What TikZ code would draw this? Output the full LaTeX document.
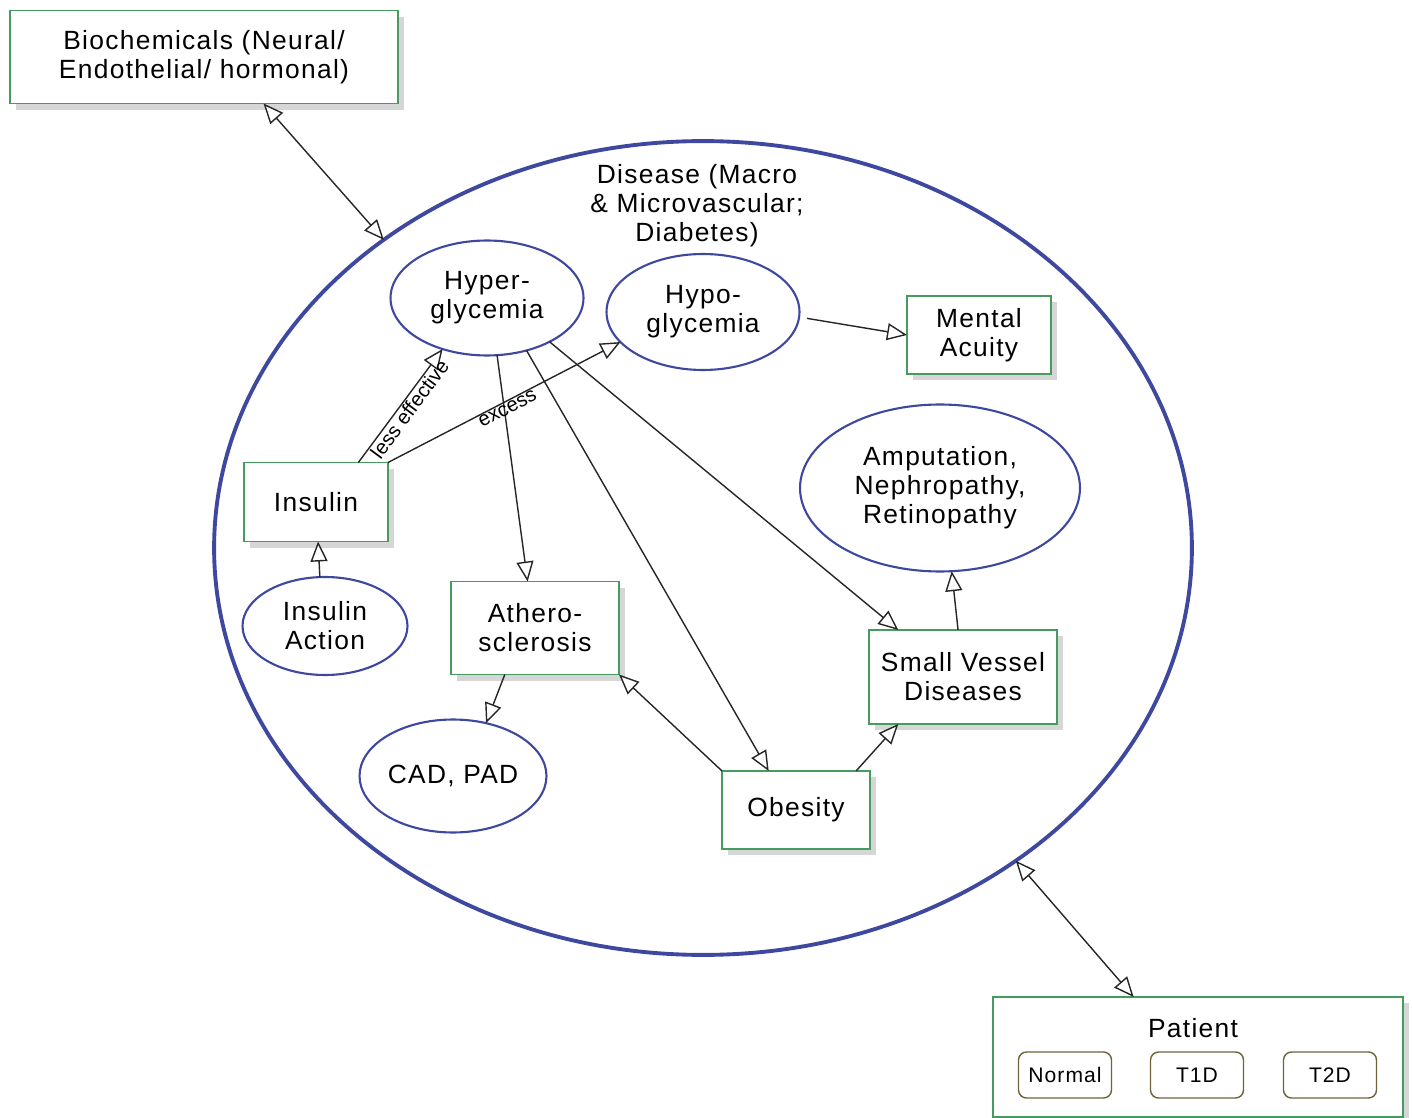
\documentclass[tikz,border=0pt]{standalone}
\usepackage{fontspec}
\setmainfont{Liberation Sans}[LetterSpace=5]
\newfontfamily\linkfont{Liberation Sans}
\usetikzlibrary{arrows.meta,shapes.geometric,shadows}

\definecolor{boxgreen}{RGB}{70,155,95}
\definecolor{ovalblue}{RGB}{62,72,158}
\definecolor{tagline}{RGB}{110,100,60}

\tikzset{
  every node/.style={font=\fontsize{15}{16.5}\selectfont, align=center, inner sep=0pt, outer sep=0pt},
  greenbox/.style={rectangle, draw=boxgreen, line width=1pt, fill=white,
    drop shadow={shadow xshift=3.5pt, shadow yshift=-3.5pt, fill=black!16, opacity=1}},
  blueoval/.style={ellipse, draw=ovalblue, line width=1.2pt, fill=white},
  bigoval/.style={ellipse, draw=ovalblue, line width=2.2pt},
  tagbox/.style={rectangle, rounded corners=0.16cm, draw=tagline, line width=0.8pt,
    font=\fontsize{12}{13}\selectfont, minimum width=1.86cm, minimum height=0.92cm},
  link/.style={draw=black!85, line width=0.8pt,
    -{Triangle[open, length=0.4cm, width=0.34cm, fill=white]}},
  twoway/.style={draw=black!85, line width=0.8pt,
    {Triangle[open, length=0.4cm, width=0.34cm, fill=white]}-{Triangle[open, length=0.4cm, width=0.34cm, fill=white]}},
  edgelabel/.style={font=\linkfont\fontsize{11.5}{12}\selectfont, sloped, below, inner sep=1pt}
}

\begin{document}
\begin{tikzpicture}[x=0.02cm, y=-0.02cm]
  \useasboundingbox (0,0) rectangle (1413,1118);

  % enclosing disease oval and its title
  \node[bigoval, minimum width=19.56cm, minimum height=16.28cm] (disease) at (703,548) {};
  \node (diseaselabel) at (697,206) {Disease (Macro\\ \& Microvascular;\\ Diabetes)};

  % outside boxes
  \node[greenbox, minimum width=7.76cm, minimum height=1.86cm] (bio) at (204,57)
    {Biochemicals (Neural/\\ Endothelial/ hormonal)};
  \node[greenbox, minimum width=8.2cm, minimum height=2.4cm] (patient) at (1198,1057) {};
  \node (patientlabel) at (1193,1028) {Patient};
  \node[tagbox] (normal) at (1065,1075) {Normal};
  \node[tagbox] (tone) at (1197,1075) {T1D};
  \node[tagbox] (ttwo) at (1330,1075) {T2D};

  % inner ovals
  \node[blueoval, minimum width=3.86cm, minimum height=2.3cm] (hyper) at (487,298) {Hyper-\\ glycemia};
  \node[blueoval, minimum width=3.86cm, minimum height=2.32cm] (hypo) at (703,312) {Hypo-\\ glycemia};
  \node[blueoval, minimum width=5.6cm, minimum height=3.34cm] (amput) at (940,488)
    {Amputation,\\ Nephropathy,\\ Retinopathy};
  \node[blueoval, minimum width=3.3cm, minimum height=1.96cm] (iaction) at (325,626) {Insulin\\ Action};
  \node[blueoval, minimum width=3.74cm, minimum height=2.26cm] (cad) at (453,776) {CAD, PAD};

  % inner boxes
  \node[greenbox, minimum width=2.88cm, minimum height=1.56cm] (mental) at (979,335) {Mental\\ Acuity};
  \node[greenbox, minimum width=2.88cm, minimum height=1.58cm] (insulin) at (316,502) {Insulin};
  \node[greenbox, minimum width=3.36cm, minimum height=1.86cm] (athero) at (535,628) {Athero-\\ sclerosis};
  \node[greenbox, minimum width=2.96cm, minimum height=1.56cm] (obesity) at (796,810) {Obesity};
  \node[greenbox, minimum width=3.76cm, minimum height=1.88cm] (svd) at (963,677) {Small Vessel\\ Diseases};

  % connectors
  \draw[twoway] (bio.-38.7) -- (disease.136);
  \draw[twoway] (disease.-45.2) -- (patient.137.3);
  \draw[link] (hyper.-80) -- (athero.99.5);
  \draw[link] (hyper.-53) -- (obesity.125);
  \draw[link] (hyper.-35.5) -- (svd.144);
  \draw[link] (insulin.43.6) -- node[edgelabel, pos=0.52] {less effective} (hyper.-131);
  \draw[link] (insulin.north east) -- node[edgelabel, pos=0.5] {excess} (hypo.-160);
  \draw[link, shorten <=0.16cm] (hypo.-3) -- (mental.west);
  \draw[link] (svd.96) -- (amput.-82);
  \draw[link] (iaction.96) -- (insulin.-87);
  \draw[link] (athero.-123) -- (cad.58);
  \draw[link] (obesity.north west) -- (athero.south east);
  \draw[link] (obesity.33) -- (svd.-144.5);
\end{tikzpicture}
\end{document}
